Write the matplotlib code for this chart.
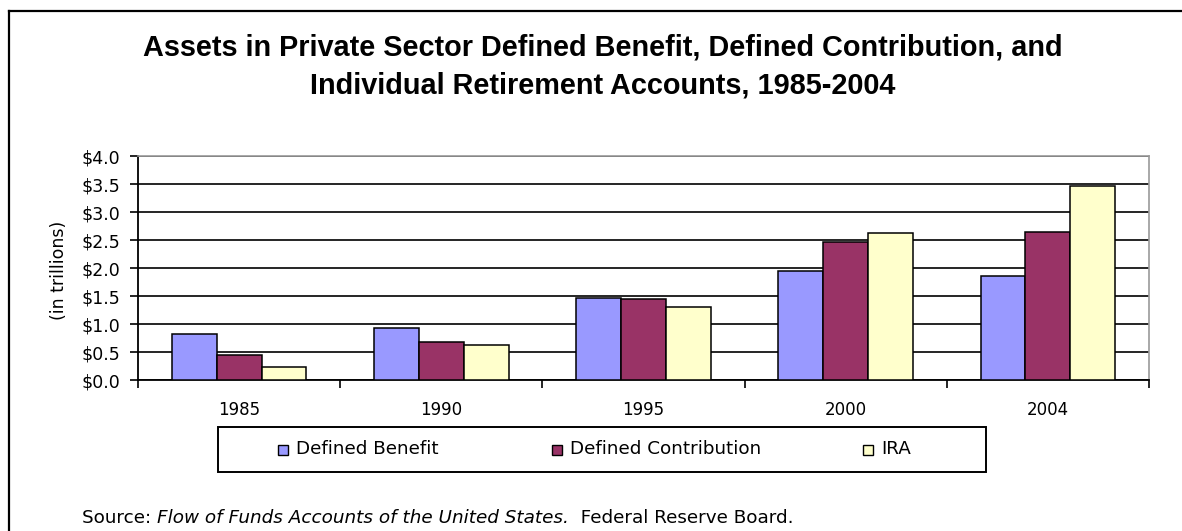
import matplotlib
matplotlib.use("Agg")
import matplotlib.pyplot as plt
from matplotlib.patches import Rectangle
from matplotlib.lines import Line2D
from matplotlib import font_manager
import numpy as np

# ---------------- data ----------------
years = ["1985", "1990", "1995", "2000", "2004"]
series_names = ["Defined Benefit", "Defined Contribution", "IRA"]
defined_benefit = [0.82, 0.92, 1.47, 1.95, 1.85]
defined_contribution = [0.44, 0.68, 1.44, 2.46, 2.64]
ira = [0.24, 0.63, 1.31, 2.62, 3.47]
y_ticks = [0.0, 0.5, 1.0, 1.5, 2.0, 2.5, 3.0, 3.5, 4.0]
y_tick_labels = ["$0.0", "$0.5", "$1.0", "$1.5", "$2.0", "$2.5", "$3.0", "$3.5", "$4.0"]
colors = ["#9999FF", "#993366", "#FFFFCC"]
title_lines = ["Assets in Private Sector Defined Benefit, Defined Contribution, and",
               "Individual Retirement Accounts, 1985-2004"]

# ---------------- layout ----------------
W, H = 1182, 531
fig = plt.figure(figsize=(W / 100, H / 100), dpi=100)
fig.patch.set_facecolor("white")


def fx(px):
    return px / W


def fy(py):
    return 1 - py / H


BODY = "DejaVu Sans"

# find a non-narrow bold Liberation Sans
title_fp = None
for f in font_manager.fontManager.ttflist:
    if f.name == "Liberation Sans" and f.weight in (700, "bold") and f.style == "normal" \
            and "Narrow" not in f.fname:
        title_fp = font_manager.FontProperties(fname=f.fname)
        break
if title_fp is None:
    title_fp = font_manager.FontProperties(family="DejaVu Sans", weight="bold")

# outer frame (left + top only visible)
fig.add_artist(Line2D([fx(9), fx(9)], [fy(11), 0], color="black", lw=1.6,
                      transform=fig.transFigure))
fig.add_artist(Line2D([fx(9), 1], [fy(11), fy(11)], color="black", lw=1.6,
                      transform=fig.transFigure))

# title
for line, ypx in zip(title_lines, [47, 85]):
    t = fig.text(fx(603), fy(ypx), line, ha="center", va="center",
                 fontproperties=title_fp)
    t.set_fontsize(20.8)

ax = fig.add_axes([fx(138), fy(380), fx(1149) - fx(138), fy(156) - fy(380)])
x = np.arange(len(years))
bw = 0.222
all_series = [defined_benefit, defined_contribution, ira]
for i, (vals, c, name) in enumerate(zip(all_series, colors, series_names)):
    ax.bar(x + (i - 1) * bw, vals, bw, color=c, edgecolor="black",
           linewidth=1.1, zorder=3, label=name)

ax.set_xlim(-0.5, len(years) - 0.5)
ax.set_ylim(0, 4)
ax.set_yticks(y_ticks)
ax.set_yticklabels(y_tick_labels, family=BODY, fontsize=12.5)
ax.set_xticks(x)
ax.set_xticklabels(years, family=BODY, fontsize=12)
ax.set_xticks(np.arange(-0.5, len(years), 1.0), minor=True)
ax.tick_params(axis="x", which="major", length=0, pad=15)
ax.tick_params(axis="x", which="minor", length=6, width=1.2, direction="out")
ax.tick_params(axis="y", which="major", length=6, width=1.2, direction="out", pad=7)
ax.yaxis.grid(True, color="black", lw=1.2)
ax.set_axisbelow(True)
for s in ["left", "bottom"]:
    ax.spines[s].set_color("black")
    ax.spines[s].set_linewidth(1.3)
for s in ["top", "right"]:
    ax.spines[s].set_color("#9a9a9a")
    ax.spines[s].set_linewidth(1.2)

# y label
fig.text(fx(59), fy(270), "(in trillions)", rotation=90, ha="center", va="center",
         family=BODY, fontsize=12.5)

# legend (manual frame + entries)
fig.add_artist(Rectangle((fx(218), fy(472)), fx(986) - fx(218), fy(427) - fy(472),
                         transform=fig.transFigure, fill=False, edgecolor="black",
                         lw=1.4))
entry_x = [278, 552, 863]
for ex, c, name in zip(entry_x, colors, series_names):
    fig.add_artist(Rectangle((fx(ex), fy(455)), fx(10), 10 / H,
                             transform=fig.transFigure, facecolor=c,
                             edgecolor="black", lw=1.0))
    fig.text(fx(ex + 18), fy(449), name, ha="left", va="center",
             family=BODY, fontsize=13.2)

# source line
FS = 13.2
t1 = fig.text(fx(82), fy(518), "Source: ", ha="left", va="center",
              family=BODY, fontsize=FS)
a2 = ax.annotate("Flow of Funds Accounts of the United States.", xy=(1, 0),
                 xycoords=t1, ha="left", va="bottom", family=BODY,
                 fontsize=FS, style="italic", annotation_clip=False)
a3 = ax.annotate("  Federal Reserve Board.", xy=(1, 0), xycoords=a2,
                 ha="left", va="bottom", family=BODY, fontsize=FS,
                 annotation_clip=False)

fig.savefig("out.png", dpi=100)
